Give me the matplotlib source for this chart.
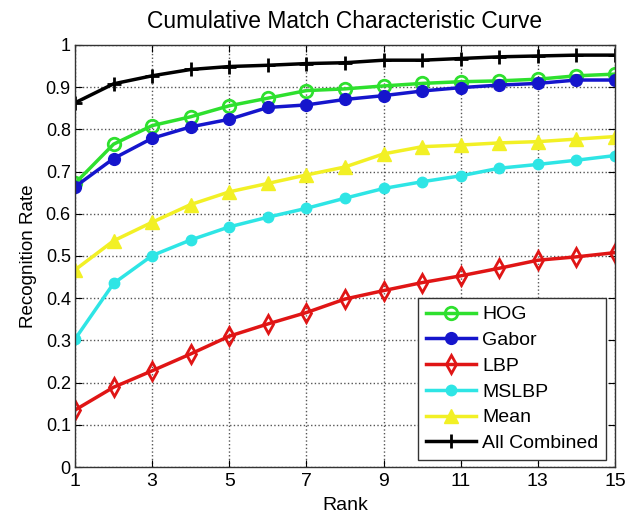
import matplotlib
matplotlib.use("Agg")
import matplotlib.pyplot as plt
import numpy as np

plt.rcParams['font.family'] = ['Liberation Sans', 'DejaVu Sans']

rank = list(range(1, 16))
hog = [0.672, 0.765, 0.809, 0.830, 0.856, 0.874, 0.892, 0.896, 0.903, 0.909, 0.913, 0.915, 0.919, 0.927, 0.931]
gabor = [0.664, 0.731, 0.779, 0.806, 0.824, 0.852, 0.858, 0.871, 0.880, 0.891, 0.899, 0.905, 0.909, 0.917, 0.917]
lbp = [0.135, 0.189, 0.228, 0.268, 0.310, 0.339, 0.366, 0.398, 0.418, 0.437, 0.453, 0.471, 0.490, 0.498, 0.508]
mslbp = [0.303, 0.435, 0.501, 0.538, 0.569, 0.592, 0.613, 0.637, 0.660, 0.676, 0.690, 0.708, 0.717, 0.727, 0.738]
mean = [0.467, 0.536, 0.580, 0.622, 0.652, 0.672, 0.692, 0.711, 0.742, 0.759, 0.763, 0.768, 0.771, 0.777, 0.783]
combined = [0.863, 0.908, 0.927, 0.942, 0.949, 0.952, 0.956, 0.958, 0.964, 0.964, 0.968, 0.972, 0.974, 0.976, 0.976]

labels = ['HOG', 'Gabor', 'LBP', 'MSLBP', 'Mean', 'All Combined']
xticks = [1, 3, 5, 7, 9, 11, 13, 15]
yticks = [0, 0.1, 0.2, 0.3, 0.4, 0.5, 0.6, 0.7, 0.8, 0.9, 1]
yticklabels = ['0', '0.1', '0.2', '0.3', '0.4', '0.5', '0.6', '0.7', '0.8', '0.9', '1']

fig = plt.figure(figsize=(6.37, 5.16), dpi=100)
ax = fig.add_axes([75/637, 49/516, 540/637, 422/516])

lw = 2.5
ax.plot(rank, hog, color='#2ee02e', lw=lw, marker='o', ms=9, mfc='none', mew=2, label=labels[0])
ax.plot(rank, gabor, color='#1515cc', lw=lw, marker='o', ms=8.5, mfc='#1515cc', label=labels[1])
ax.plot(rank, lbp, color='#e01515', lw=lw, marker='d', ms=9, mfc='none', mew=2, label=labels[2])
ax.plot(rank, mslbp, color='#2ee5e5', lw=lw, marker='o', ms=7.5, mfc='#2ee5e5', label=labels[3])
ax.plot(rank, mean, color='#f2f025', lw=lw, marker='^', ms=10, mfc='#f2f025', label=labels[4])
ax.plot(rank, combined, color='black', lw=lw, marker='+', ms=10, mew=2, label=labels[5])

ax.set_xlim(1, 15)
ax.set_ylim(0, 1)
ax.set_xticks(xticks)
ax.set_yticks(yticks)
ax.set_yticklabels(yticklabels)
ax.tick_params(axis='y', direction='in', right=True, labelsize=13, length=5, pad=3)
ax.tick_params(axis='x', direction='in', top=True, labelsize=14, length=5, pad=4)
ax.grid(True, linestyle=':', color='#555555', linewidth=1)
for s in ax.spines.values():
    s.set_linewidth(1)
    s.set_color('#333333')

ax.set_title('Cumulative Match Characteristic Curve', fontsize=16.4, pad=12)
ax.set_xlabel('Rank', fontsize=14, labelpad=5)
ax.set_ylabel('Recognition Rate', fontsize=13.5, labelpad=6)

leg = ax.legend(loc='lower right', fontsize=14, frameon=True, fancybox=False,
                edgecolor='#333333', framealpha=1, handlelength=2.6,
                borderpad=0.4, labelspacing=0.42, handletextpad=0.3,
                borderaxespad=0, bbox_to_anchor=(0.9833, 0.0166))
leg.get_frame().set_linewidth(1)

fig.savefig('out.png', dpi=100)
